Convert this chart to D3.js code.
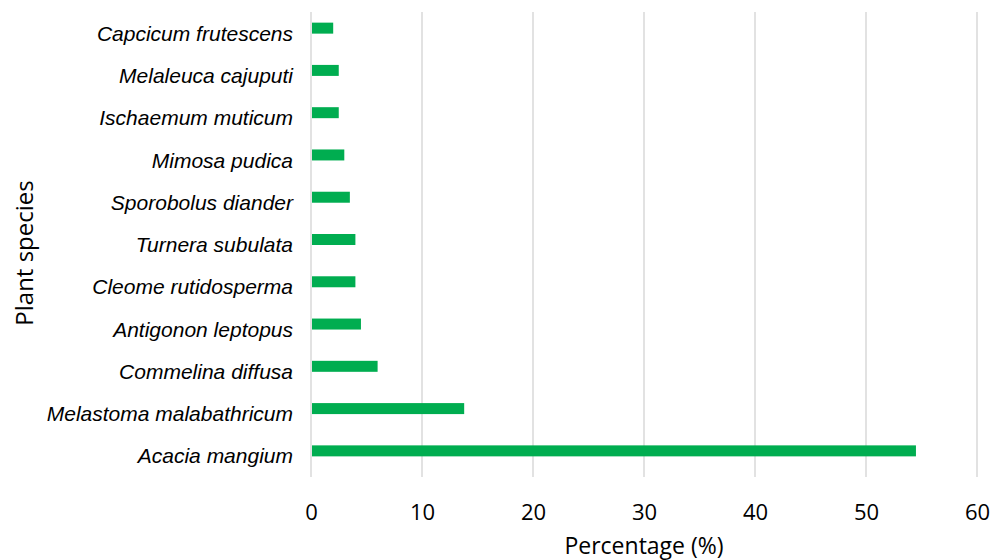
<!DOCTYPE html>
<html>
<head>
<meta charset="utf-8">
<script src="https://cdn.jsdelivr.net/npm/d3@7"></script>
<style>
  body { margin: 0; background: #fff; }
  .axis text { fill: #000; }
</style>
</head>
<body>
<div id="chart"></div>
<script>
// plant species, top to bottom as drawn
var species = [
  "Capcicum frutescens",
  "Melaleuca cajuputi",
  "Ischaemum muticum",
  "Mimosa pudica",
  "Sporobolus diander",
  "Turnera subulata",
  "Cleome rutidosperma",
  "Antigonon leptopus",
  "Commelina diffusa",
  "Melastoma malabathricum",
  "Acacia mangium"
];
var percentages = [2, 2.5, 2.5, 3, 3.5, 4, 4, 4.5, 6, 13.8, 54.5];
var xTicks = [0, 10, 20, 30, 40, 50, 60];

var width = 994,
height = 560;

var svg = d3.select("#chart")
.append("svg")
.attr("width", width)
.attr("height", height);

var xScale = d3.scaleLinear()
.domain([0, 60])
.range([311, 977]);

var yScale = d3.scaleBand()
.domain(species)
.range([7, 472])
.paddingInner(0.74)
.paddingOuter(0.37);

// gridlines
svg.append("g")
.selectAll("line")
.data(xTicks)
.enter()
.append("line")
.attr("x1", function(d) { return xScale(d); })
.attr("x2", function(d) { return xScale(d); })
.attr("y1", 12)
.attr("y2", 477)
.attr("stroke", "#d9d9d9")
.attr("stroke-width", 1.5);

// bars
svg.append("g")
.selectAll("rect")
.data(percentages)
.enter()
.append("rect")
.attr("x", xScale(0) + 1)
.attr("y", function(d, i) { return yScale(species[i]); })
.attr("width", function(d) { return xScale(d) - xScale(0) - 1; })
.attr("height", yScale.bandwidth())
.attr("fill", "#00ad50");

// x axis (labels only)
var xAxis = d3.axisBottom(xScale)
.tickValues(xTicks)
.tickSize(0)
.tickPadding(0);

svg.append("g")
.attr("class", "axis")
.attr("transform", "translate(0,504)")
.call(xAxis)
.call(function(g) { g.select(".domain").remove(); })
.selectAll("text")
.style("font-family", "'Open Sans', sans-serif")
.style("font-size", "22px");

// y axis (labels only)
var yAxis = d3.axisLeft(yScale)
.tickSize(0)
.tickPadding(18);

svg.append("g")
.attr("class", "axis")
.attr("transform", "translate(311,0)")
.call(yAxis)
.call(function(g) { g.select(".domain").remove(); })
.selectAll("text")
.attr("dy", "0.6em")
.style("font-family", "'Liberation Sans', Arial, sans-serif")
.style("font-style", "italic")
.style("font-size", "21px");

// axis titles
svg.append("text")
.text("Percentage (%)")
.attr("x", 644)
.attr("y", 554)
.attr("text-anchor", "middle")
.style("font-family", "'Open Sans', sans-serif")
.style("font-size", "23px");

svg.append("text")
.text("Plant species")
.attr("transform", "translate(33,253) rotate(-90)")
.attr("text-anchor", "middle")
.style("font-family", "'Open Sans', sans-serif")
.style("font-size", "24px");
</script>
</body>
</html>
